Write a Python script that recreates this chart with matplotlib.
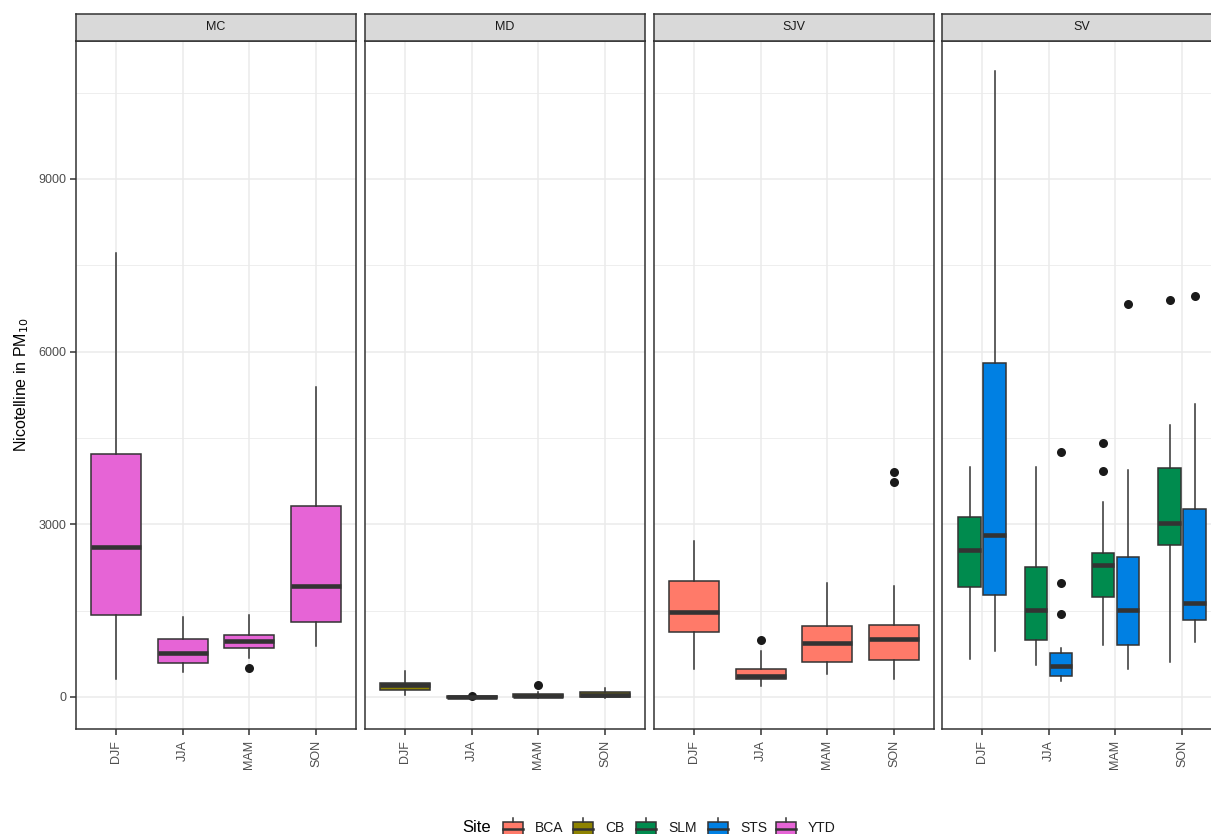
import matplotlib
matplotlib.use('Agg')
import matplotlib.pyplot as plt
from matplotlib.patches import Rectangle

plt.rcParams['font.family'] = ['Liberation Sans', 'DejaVu Sans']

W, H = 1211, 834

seasons = ['DJF', 'JJA', 'MAM', 'SON']
regions = ['MC', 'MD', 'SJV', 'SV']
sites = ['BCA', 'CB', 'SLM', 'STS', 'YTD']
site_colors = {'BCA': '#FF7A69', 'CB': '#8E8300', 'SLM': '#008B4E',
               'STS': '#0080E3', 'YTD': '#E664D6'}

# five-number summaries per season (DJF, JJA, MAM, SON)
ytd_lo = [313, 429, 678, 892]
ytd_q1 = [1425, 585, 857, 1303]
ytd_med = [2606, 764, 967, 1923]
ytd_q3 = [4222, 1008, 1083, 3318]
ytd_hi = [7714, 1390, 1430, 5386]
ytd_out = [[], [], [498], []]

cb_lo = [40, -25, -10, -10]
cb_q1 = [116, -20, -5, -5]
cb_med = [214, 0, 25, 40]
cb_q3 = [249, 25, 57, 81]
cb_hi = [446, 35, 92, 151]
cb_out = [[], [23], [203], []]

bca_lo = [486, 191, 405, 313]
bca_q1 = [1135, 318, 613, 637]
bca_med = [1477, 365, 938, 1008]
bca_q3 = [2015, 492, 1228, 1256]
bca_hi = [2705, 794, 1975, 1928]
bca_out = [[], [990], [], [3915, 3741]]

slm_lo = [660, 556, 903, 602]
slm_q1 = [1917, 985, 1743, 2635]
slm_med = [2560, 1506, 2293, 3023]
slm_q3 = [3127, 2258, 2508, 3978]
slm_hi = [3990, 3990, 3382, 4725]
slm_out = [[], [], [4413, 3921], [6892]]

sts_lo = [805, 284, 486, 950]
sts_q1 = [1767, 371, 909, 1332]
sts_med = [2809, 533, 1506, 1628]
sts_q3 = [5803, 764, 2432, 3266]
sts_hi = [10876, 845, 3944, 5090]
sts_out = [[], [4262, 1975, 1436], [6822], [6961]]

site_stats = {
    'YTD': (ytd_lo, ytd_q1, ytd_med, ytd_q3, ytd_hi, ytd_out),
    'CB': (cb_lo, cb_q1, cb_med, cb_q3, cb_hi, cb_out),
    'BCA': (bca_lo, bca_q1, bca_med, bca_q3, bca_hi, bca_out),
    'SLM': (slm_lo, slm_q1, slm_med, slm_q3, slm_hi, slm_out),
    'STS': (sts_lo, sts_q1, sts_med, sts_q3, sts_hi, sts_out),
}
region_sites = {'MC': ['YTD'], 'MD': ['CB'], 'SJV': ['BCA'], 'SV': ['SLM', 'STS']}

dark = '#333333'
grid_col = '#EBEBEB'


def rect(x0, x1, y0, y1):
    return [x0 / W, 1 - y1 / H, (x1 - x0) / W, (y1 - y0) / H]


fig = plt.figure(figsize=(W / 100, H / 100), dpi=100)

lefts = [76, 365, 654, 942]
pw = 280
top, bot = 41, 729

for i, reg in enumerate(regions):
    x0 = lefts[i]
    ax = fig.add_axes(rect(x0, x0 + pw, top, bot))
    ax.set_xlim(0.4, 4.6)
    ax.set_ylim(-556, 11397)
    ax.set_yticks([0, 3000, 6000, 9000])
    ax.set_yticks([1500, 4500, 7500, 10500], minor=True)
    ax.set_xticks(range(1, 5))
    ax.grid(True, which='major', color=grid_col, lw=1.1)
    ax.grid(True, which='minor', axis='y', color=grid_col, lw=0.6)
    ax.set_axisbelow(True)
    for s in ax.spines.values():
        s.set_color(dark)
        s.set_linewidth(1.1)

    group = region_sites[reg]
    n = len(group)
    for j, site in enumerate(group):
        lo, q1, med, q3, hi, out = site_stats[site]
        stats = [dict(whislo=lo[k], q1=q1[k], med=med[k], q3=q3[k],
                      whishi=hi[k], fliers=out[k]) for k in range(4)]
        if n == 1:
            pos = [1, 2, 3, 4]
            wd = 0.75
        else:
            off = (j - (n - 1) / 2) * 0.75 / n
            pos = [k + 1 + off for k in range(4)]
            wd = 0.75 / n * 0.9
        ax.bxp(stats, positions=pos, widths=wd, patch_artist=True,
               showcaps=False, manage_ticks=False,
               boxprops=dict(facecolor=site_colors[site], edgecolor=dark, linewidth=1.1),
               medianprops=dict(color=dark, linewidth=3.3, solid_capstyle='butt'),
               whiskerprops=dict(color=dark, linewidth=1.1),
               flierprops=dict(marker='o', markerfacecolor='#1A1A1A',
                               markeredgecolor='none', markersize=6.5))

    ax.set_xticklabels(seasons, rotation=90, fontsize=9, color='#4D4D4D')
    ax.tick_params(axis='x', length=4, width=1.1, color=dark, pad=4)
    ax.tick_params(axis='y', which='minor', length=0)
    if i == 0:
        ax.tick_params(axis='y', length=4, width=1.1, color=dark, labelsize=9,
                       labelcolor='#4D4D4D', pad=3)
        ax.set_ylabel('Nicotelline in PM$_{10}$', fontsize=11.5, color='black',
                      labelpad=5)
    else:
        ax.tick_params(axis='y', length=0, labelleft=False)

    st = fig.add_axes(rect(x0, x0 + pw, 14, 41))
    st.set_facecolor('#D9D9D9')
    st.set_xticks([])
    st.set_yticks([])
    for s in st.spines.values():
        s.set_color(dark)
        s.set_linewidth(1.1)
    st.text(0.5, 0.5, reg, ha='center', va='center', fontsize=9, color='#1A1A1A',
            transform=st.transAxes)

# legend drawn in pixel coordinates at the bottom
lg = fig.add_axes([0, 0, 1, 1], zorder=-1)
lg.set_xlim(0, W)
lg.set_ylim(H, 0)
lg.axis('off')
lg.text(462, 828, 'Site', fontsize=12, va='center', ha='left')
key_x = [503, 573, 636, 708, 776]
for kx, site in zip(key_x, sites):
    lg.add_patch(Rectangle((kx, 822), 20, 14, facecolor=site_colors[site],
                           edgecolor=dark, lw=1.1))
    lg.plot([kx + 10, kx + 10], [818, 822], color=dark, lw=1.1)
    lg.plot([kx, kx + 20], [829, 829], color=dark, lw=1.8)
    lg.text(kx + 32, 828, site, fontsize=10, va='center', ha='left', color='#1A1A1A')

fig.savefig('out.png', dpi=100)
